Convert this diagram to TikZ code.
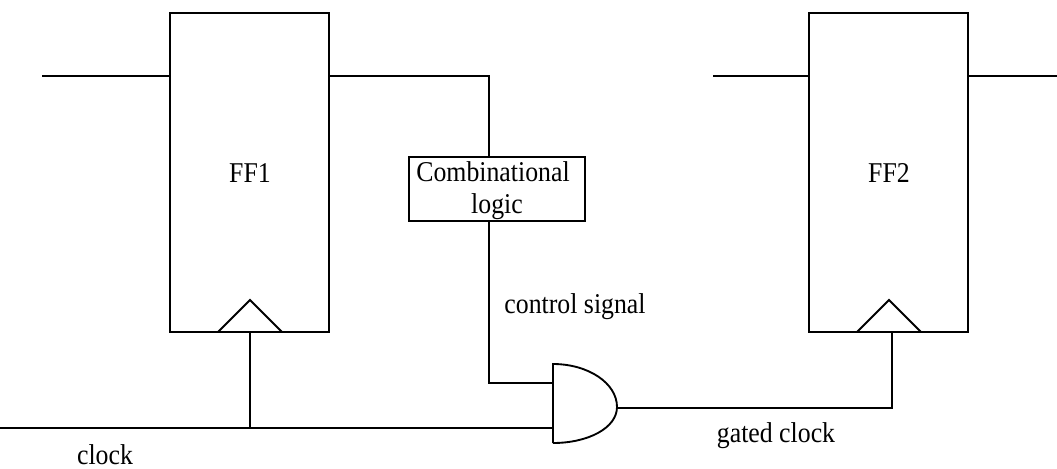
\documentclass[tikz,border=0pt]{standalone}
\usepackage{fontspec}
\setmainfont[FakeStretch=0.9]{Liberation Serif}
\tikzset{
  x=0.75pt,y=-0.75pt,
  wire/.style={draw=black,line width=1.4pt},
  ffbox/.style={draw=black,line width=1.4pt,minimum width=159pt*0.75,minimum height=319pt*0.75,inner sep=0pt},
  combbox/.style={draw=black,line width=1.6pt,minimum width=176pt*0.75,minimum height=64pt*0.75,inner sep=0pt},
  label/.style={inner sep=0pt,font=\fontsize{21.5pt}{24pt}\selectfont,text=black,align=center}
}
\begin{document}
\begin{tikzpicture}
\useasboundingbox (0,0) rectangle (1057,468);
\fill[white] (0,0) rectangle (1057,468);
% Flip-flops
\node[ffbox] (ff1) at (249.5,172.5) {};
\node[ffbox] (ff2) at (888.5,172.5) {};
\node[label] (ff1t) at (250,173) {FF1};
\node[label] (ff2t) at (889,173) {FF2};
% combinational logic
\node[combbox] (comb) at (497,189) {};
\node[label] (combt1) at (493,172) {Combinational};
\node[label] (combt2) at (497,207) {logic};
% Clock triangles
\coordinate (t1l) at (218,332); \coordinate (t1a) at (250,300); \coordinate (t1r) at (282,332);
\draw[wire] (t1l) -- (t1a) -- (t1r);
\coordinate (t2l) at (857,332); \coordinate (t2a) at (889,300); \coordinate (t2r) at (921,332);
\draw[wire] (t2l) -- (t2a) -- (t2r);
% AND gate
\coordinate (gt) at (553,364); \coordinate (gb) at (553,443); \coordinate (gtip) at (617,407);
\draw[wire] (gb) -- (gt) .. controls (588,364) and (617,383) .. (gtip) .. controls (617,428) and (588,443) .. (gb);
% wires
\coordinate (in1) at (42,76);
\coordinate (in2) at (713,76);
\coordinate (out2) at (1057,76);
\coordinate (clk) at (0,428);
\coordinate (jn) at (250,428);
\coordinate (g1) at (553,383);
\coordinate (g2) at (553,428);
\coordinate (c1) at (489,76);
\coordinate (c2) at (489,383);
\coordinate (o1) at (892,408);
\coordinate (ck1) at (892,332);
\coordinate (ck0) at (250,332);
\draw[wire] (in1) -- (in1 -| ff1.west);
\draw[wire] (in2) -- (in2 -| ff2.west);
\draw[wire] (out2 -| ff2.east) -- (out2);
\draw[wire] (in1 -| ff1.east) -- (c1) -- (c1 |- comb.north);
\draw[wire] (c1 |- comb.south) -- (c2) -- (g1);
\draw[wire] (clk) -- (g2);
\draw[wire] (jn) -- (ck0);
\draw[wire] (gtip |- o1) -- (o1) -- (ck1);
% labels
\node[label] (cs) at (575,307) {control signal};
\node[label] (gc) at (776,436) {gated clock};
\node[label] (ck) at (105,455) {clock};
\end{tikzpicture}
\end{document}
